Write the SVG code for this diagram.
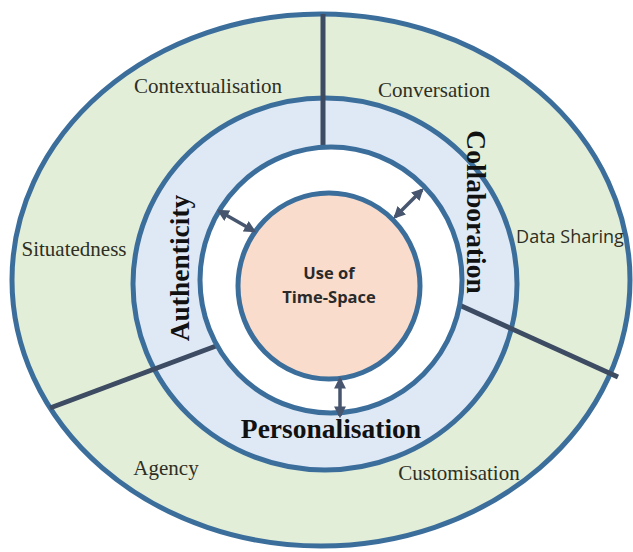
<svg xmlns="http://www.w3.org/2000/svg" width="633" height="552" viewBox="0 0 633 552">
<defs>
<style>
.ring{stroke:#3c6e9c;stroke-width:5}
.div{stroke:#3d4b63;stroke-width:5;stroke-linecap:butt}
.arr{stroke:#47566e;stroke-width:3.5;fill:none}
.lbl{font-family:"Liberation Serif","Times New Roman",serif;font-size:21px;fill:#2e2f24;text-anchor:middle}
.big{font-family:"Liberation Serif","Times New Roman",serif;font-size:27.5px;font-weight:bold;fill:#111;text-anchor:middle}
.ctr{font-family:"Open Sans","Noto Sans",sans-serif;font-size:16.5px;font-weight:bold;fill:#2a2a2a;text-anchor:middle}
.sans{font-family:"Open Sans","Noto Sans",sans-serif;font-size:18px;fill:#2e2f24;text-anchor:middle}
</style>
<marker id="ah" viewBox="0 0 10 10" refX="8" refY="5" markerWidth="3.4" markerHeight="3.4" orient="auto-start-reverse" markerUnits="strokeWidth">
<path d="M0,0 L10,5 L0,10 z" fill="#47566e"/>
</marker>
</defs>
<rect width="633" height="552" fill="#ffffff"/>
<g id="outer-ring">
<ellipse class="ring" cx="321" cy="280" rx="309" ry="266" fill="#e3eed8"/>
</g>
<g id="middle-ring">
<ellipse class="ring" cx="325" cy="284" rx="192" ry="186" fill="#dfe9f5"/>
</g>
<g id="dividers">
<line class="div" x1="323" y1="14" x2="323" y2="150"/>
<line class="div" x1="50" y1="408" x2="216" y2="346"/>
<line class="div" x1="457" y1="304" x2="618" y2="377"/>
</g>
<g id="inner-ring">
<ellipse class="ring" cx="331" cy="280" rx="131" ry="133" fill="#ffffff"/>
</g>
<g id="core">
<ellipse class="ring" cx="329" cy="286" rx="91" ry="93" fill="#f9dccb"/>
<text class="ctr" x="329" y="279">Use of</text>
<text class="ctr" x="329" y="303">Time-Space</text>
</g>
<g id="connectors">
<line class="arr" x1="219" y1="211" x2="254" y2="231" marker-start="url(#ah)" marker-end="url(#ah)"/>
<line class="arr" x1="395" y1="217" x2="422" y2="190" marker-start="url(#ah)" marker-end="url(#ah)"/>
<line class="arr" x1="340" y1="379" x2="340" y2="416" marker-start="url(#ah)" marker-end="url(#ah)"/>
</g>
<g id="authenticity">
<text class="big" transform="translate(189,268) rotate(-90)">Authenticity</text>
</g>
<g id="collaboration">
<text class="big" transform="translate(467,212) rotate(90)">Collaboration</text>
</g>
<g id="personalisation">
<text class="big" x="331" y="438">Personalisation</text>
</g>
<g id="contextualisation"><text class="lbl" x="208" y="93">Contextualisation</text></g>
<g id="conversation"><text class="lbl" x="434" y="97">Conversation</text></g>
<g id="situatedness"><text class="lbl" x="74" y="256">Situatedness</text></g>
<g id="data-sharing"><text class="sans" x="570" y="243">Data Sharing</text></g>
<g id="agency"><text class="lbl" x="166" y="475">Agency</text></g>
<g id="customisation"><text class="lbl" x="459" y="480">Customisation</text></g>
</svg>
